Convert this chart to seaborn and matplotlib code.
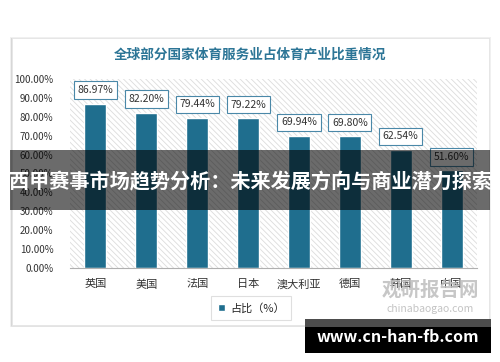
import matplotlib
matplotlib.use("Agg")
import matplotlib.pyplot as plt
import seaborn as sns
import pandas as pd
from matplotlib.patches import Rectangle

countries = ["英国", "美国", "法国", "日本", "澳大利亚", "德国", "韩国", "中国"]
shares = [86.97, 82.20, 79.44, 79.22, 69.94, 69.80, 62.54, 51.60]
yticks = [0, 10, 20, 30, 40, 50, 60, 70, 80, 90, 100]
title = "全球部分国家体育服务业占体育产业比重情况"
legend_label = "占比（%）"
banner = "西甲赛事市场趋势分析：未来发展方向与商业潜力探索"
site = "www.cn-han-fb.com"

sns.set_theme(style="white")
plt.rcParams['font.family'] = ['Noto Sans CJK SC', 'DejaVu Sans']
plt.rcParams['hatch.linewidth'] = 0.6
plt.rcParams['hatch.color'] = '#dcdcdc'

bar_color = "#1f6e8e"
fig = plt.figure(figsize=(5.0, 3.62), dpi=100)
fig.patch.set_facecolor("white")

# card with soft shadow
for i, a in enumerate([0.05, 0.05, 0.06]):
    fig.patches.append(Rectangle((0.024 - 0.004 * (i + 1) / 3, 0.102 - 0.006 * (i + 1) / 3),
                                 0.954 + 0.008 * (i + 1) / 3, 0.793 + 0.008 * (i + 1) / 3,
                                 transform=fig.transFigure, facecolor="black", alpha=a,
                                 edgecolor="none", zorder=-3))
fig.patches.append(Rectangle((0.024, 0.102), 0.954, 0.793, transform=fig.transFigure,
                             facecolor="white", edgecolor="#e6e6e6", lw=0.6, zorder=-2))

ax = fig.add_axes([0.14, 0.2597, 0.814, 0.5221])
ax.set_facecolor("none")
ax.add_patch(Rectangle((0, 0), 1, 1, transform=ax.transAxes, facecolor="white",
                       hatch="\\\\\\\\\\\\", edgecolor="#dcdcdc", lw=0, zorder=0))

df = pd.DataFrame({"country": countries, "share": shares})
sns.barplot(data=df, x="country", y="share", color=bar_color, width=0.43,
            saturation=1, ax=ax, zorder=2, label=legend_label)

ax.set_ylim(0, 100)
ax.set_xlim(-0.5, len(countries) - 0.5)
ax.set_yticks(yticks)
ax.set_yticklabels([f"{v:.2f}%" for v in yticks], fontsize=7, color="#333333")
ax.tick_params(axis="x", labelsize=8, colors="#333333", length=0, pad=8)
ax.tick_params(axis="y", length=0, pad=12)
ax.set_xlabel("")
ax.set_ylabel("")
for s in ["top", "right", "left"]:
    ax.spines[s].set_visible(False)
ax.spines["bottom"].set_color("#b0b0b0")
ax.spines["bottom"].set_linewidth(0.8)

for i, v in enumerate(shares):
    ax.text(i, v + 4.5, f"{v:.2f}%", ha="center", va="bottom", fontsize=7.5, color="#333333",
            zorder=4,
            bbox=dict(boxstyle="square,pad=0.35", facecolor="white", edgecolor="#4a88a8", lw=0.8))

fig.text(0.5, 1 - 55 / 362, title, ha="center", va="center", fontsize=9.8,
         fontweight="bold", color="#2c7596")

leg = ax.legend(loc="center", bbox_to_anchor=(0.502, 1 - 308 / 362),
                bbox_transform=fig.transFigure, fontsize=8, frameon=True,
                handlelength=0.7, handleheight=0.7, handletextpad=0.4, fancybox=False,
                borderpad=0.6)
leg.get_frame().set_edgecolor("#d8d8d8")
leg.get_frame().set_linewidth(0.8)

# watermark
fig.text(0.86, 1 - 290 / 362, "观研报告网", ha="center", va="center", fontsize=14,
         fontweight="bold", color="#bdbdbd", alpha=0.85)
fig.text(0.86, 1 - 309 / 362, "chinabaogao.com", ha="center", va="center", fontsize=7.5,
         color="#bdbdbd", alpha=0.9)

# dark overlay banner
fig.patches.append(Rectangle((0.02, 1 - 210 / 362), 0.96, 60 / 362, transform=fig.transFigure,
                             facecolor="black", alpha=0.58, edgecolor="none", zorder=10))
fig.text(0.5, 1 - 182 / 362, banner, ha="center", va="center", fontsize=14.5,
         fontweight="bold", color="white", zorder=11)

# bottom site banner
fig.patches.append(Rectangle((305 / 500, 1 - 327 / 362), 186 / 500, 8 / 362,
                             transform=fig.transFigure, facecolor="#4d4d4d",
                             edgecolor="none", zorder=10))
fig.patches.append(Rectangle((305 / 500, 1 - 353 / 362), 186 / 500, 26 / 362,
                             transform=fig.transFigure, facecolor="black",
                             edgecolor="none", zorder=10))
fig.text(398 / 500, 1 - 337 / 362, site, ha="center", va="center", fontsize=11.5,
         fontweight="bold", color="white", zorder=11)

fig.savefig("out.png", dpi=100)
